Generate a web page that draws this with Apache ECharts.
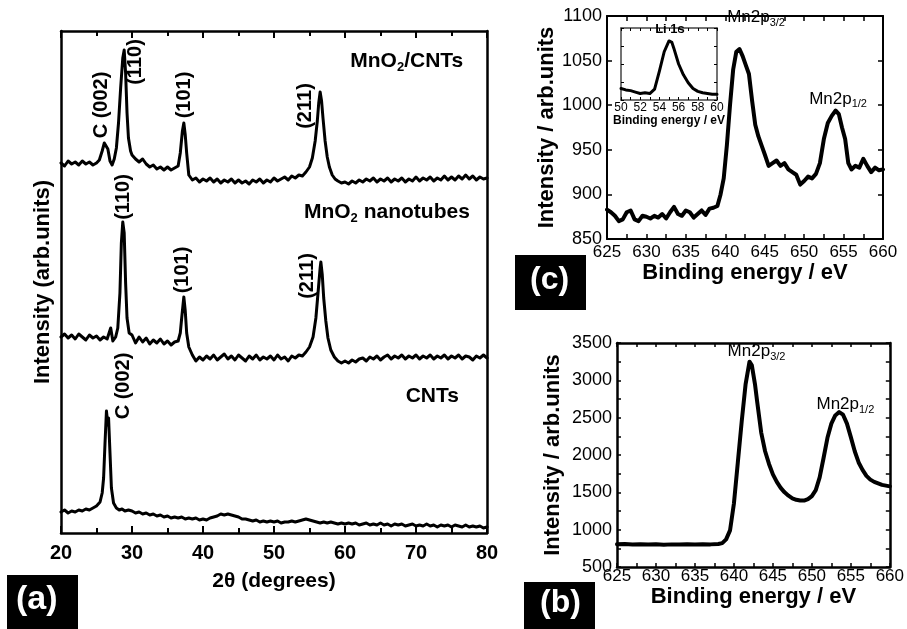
<!DOCTYPE html>
<html><head><meta charset="utf-8">
<script src="https://cdn.jsdelivr.net/npm/echarts@6/dist/echarts.min.js"></script>
<style>html,body{margin:0;padding:0;background:#fff}#c{width:907px;height:629px}</style>
</head><body><div id="c"></div>
<script>
const FONT = 'Liberation Sans, Arial, sans-serif';

// ---------- Panel (a): XRD patterns (2theta, stacked intensity, arb. units) ----------
const xrdCNTs = [[20,21],[20.5,23],[21,20],[21.5,22],[22,21],[22.5,23],[23,22],[23.5,24],[24,23],[24.5,25],[25,27],[25.5,31],[25.8,40],[26,55],[26.2,90],[26.4,122],[26.6,108],[26.7,115],[26.9,80],[27.1,45],[27.4,30],[27.8,25],[28.2,23],[28.6,24],[29,22],[29.5,23],[30,22],[30.5,20],[31,21],[31.5,19],[32,20],[32.5,18],[33,19],[33.5,17],[34,18],[34.5,16],[35,17],[35.5,15],[36,16],[36.5,15],[37,16],[37.5,14],[38,15],[38.5,14],[39,15],[39.5,13],[40,14],[40.5,13],[41,15],[41.5,16],[42,17],[42.5,19],[43,18],[43.5,19],[44,18],[44.5,17],[45,16],[45.5,14],[46,14],[46.5,13],[47,12],[47.5,13],[48,11],[48.5,12],[49,11],[49.5,12],[50,11],[50.5,12],[51,10],[51.5,11],[52,11],[52.5,12],[53,11],[53.5,12],[54,13],[54.5,14],[55,13],[55.5,12],[56,11],[56.5,10],[57,11],[57.5,10],[58,11],[58.5,10],[59,9],[59.5,10],[60,9],[60.5,10],[61,9],[61.5,10],[62,8],[62.5,9],[63,10],[63.5,8],[64,9],[64.5,8],[65,10],[65.5,8],[66,9],[66.5,7],[67,9],[67.5,8],[68,9],[68.5,7],[69,8],[69.5,9],[70,7],[70.5,8],[71,7],[71.5,9],[72,7],[72.5,8],[73,6],[73.5,8],[74,7],[74.5,8],[75,6],[75.5,8],[76,7],[76.5,6],[77,8],[77.5,6],[78,7],[78.5,6],[79,7],[79.5,5],[80,6]];

const xrdMnO2 = [[20,196],[20.5,199],[21,195],[21.5,198],[22,194],[22.5,199],[23,196],[23.5,193],[24,198],[24.5,195],[25,197],[25.5,193],[26,196],[26.5,194],[27,205],[27.3,192],[27.7,196],[28,205],[28.3,240],[28.5,290],[28.7,311],[28.9,300],[29.1,250],[29.3,215],[29.6,200],[30,198],[30.5,190],[31,196],[31.5,191],[32,195],[32.5,189],[33,193],[33.5,190],[34,194],[34.5,189],[35,192],[35.5,188],[36,191],[36.5,192],[36.8,200],[37,215],[37.3,236],[37.5,222],[37.7,200],[38,186],[38.5,178],[39,172],[39.5,176],[40,173],[40.5,177],[41,174],[41.5,178],[42,173],[42.5,176],[43,179],[43.5,174],[44,177],[44.5,173],[45,178],[45.5,175],[46,172],[46.5,177],[47,174],[47.5,178],[48,173],[48.5,176],[49,174],[49.5,177],[50,173],[50.5,178],[51,174],[51.5,176],[52,172],[52.5,177],[53,175],[53.5,178],[54,177],[54.5,181],[55,186],[55.5,196],[55.9,215],[56.2,240],[56.5,265],[56.6,271],[56.8,258],[57,235],[57.3,212],[57.6,195],[58,183],[58.5,176],[59,172],[59.5,170],[60,172],[60.5,170],[61,173],[61.5,171],[62,174],[62.5,175],[63,172],[63.5,176],[64,174],[64.5,177],[65,173],[65.5,176],[66,178],[66.5,174],[67,177],[67.5,175],[68,178],[68.5,174],[69,177],[69.5,175],[70,178],[70.5,174],[71,177],[71.5,175],[72,178],[72.5,174],[73,177],[73.5,175],[74,178],[74.5,174],[75,177],[75.5,175],[76,178],[76.5,174],[77,177],[77.5,176],[78,173],[78.5,177],[79,175],[79.5,178],[80,175]];

const xrdMnO2CNTs = [[20,370],[20.5,367],[21,372],[21.5,369],[22,371],[22.5,368],[23,372],[23.5,369],[24,371],[24.5,368],[25,370],[25.4,373],[25.8,382],[26.1,390],[26.3,391],[26.6,384],[26.9,372],[27.2,368],[27.5,374],[27.8,385],[28.1,410],[28.4,445],[28.7,475],[28.9,483],[29.1,460],[29.3,420],[29.5,395],[29.8,382],[30,378],[30.5,374],[31,371],[31.5,374],[32,369],[32.5,366],[33,368],[33.5,364],[34,366],[34.5,363],[35,366],[35.5,363],[36,365],[36.5,367],[36.8,380],[37.1,402],[37.3,410],[37.5,398],[37.7,380],[38,358],[38.5,353],[39,355],[39.5,351],[40,354],[40.5,352],[41,355],[41.5,351],[42,354],[42.5,350],[43,353],[43.5,351],[44,354],[44.5,350],[45,353],[45.5,350],[46,352],[46.5,349],[47,353],[47.5,351],[48,354],[48.5,350],[49,353],[49.5,351],[50,355],[50.5,352],[51,354],[51.5,356],[52,353],[52.5,357],[53,355],[53.5,358],[54,357],[54.5,361],[55,366],[55.4,375],[55.8,392],[56.1,412],[56.3,430],[56.5,441],[56.7,432],[56.9,415],[57.2,392],[57.5,376],[57.8,366],[58.2,358],[58.6,354],[59,352],[59.5,350],[60,351],[60.5,349],[61,352],[61.5,350],[62,353],[62.5,351],[63,354],[63.5,352],[64,355],[64.5,351],[65,354],[65.5,352],[66,355],[66.5,351],[67,354],[67.5,352],[68,355],[68.5,351],[69,354],[69.5,352],[70,356],[70.5,352],[71,355],[71.5,353],[72,356],[72.5,352],[73,355],[73.5,353],[74,357],[74.5,353],[75,356],[75.5,353],[76,357],[76.5,354],[77,358],[77.5,354],[78,357],[78.5,353],[79,356],[79.5,354],[80,355]];

const xrdTicks = {min: 20, max: 80, step: 10};
const xrdPeakLabels = [['C (002)',25.9,428],['(110)',30.7,471],['(101)',37.5,438],['(211)',54.6,427],['(110)',29.0,336],['(101)',37.3,263],['(211)',54.9,257],['C (002)',28.9,147]];
const xrdSampleLabels = [['MnO_{2}/CNTs',68.7,471],['MnO_{2} nanotubes',65.9,320],['CNTs',72.3,136]];

// ---------- Panel (c): XPS Mn2p of MnO2/CNTs with Li 1s inset ----------
const xpsC = [[625,883],[625.5,880],[626,876],[626.5,870],[627,872],[627.5,880],[628,882],[628.5,872],[629,870],[629.5,876],[630,875],[630.5,873],[631,876],[631.5,874],[632,878],[632.5,873],[633,880],[633.5,886],[634,878],[634.5,876],[635,882],[635.5,880],[636,874],[636.5,878],[637,882],[637.5,877],[638,884],[638.5,885],[639,887],[639.4,900],[639.8,918],[640.2,955],[640.6,1000],[641,1040],[641.4,1060],[641.8,1063],[642.2,1055],[642.6,1045],[643,1035],[643.4,1005],[643.8,978],[644.2,965],[644.6,955],[645,945],[645.5,932],[646,935],[646.5,938],[647,932],[647.5,935],[648,928],[648.5,925],[649,922],[649.5,911],[650,915],[650.5,920],[651,918],[651.5,923],[652,935],[652.5,962],[653,980],[653.5,988],[654,994],[654.4,990],[654.8,975],[655.2,962],[655.6,935],[656,928],[656.5,932],[657,930],[657.5,940],[658,932],[658.5,925],[659,930],[659.5,927],[660,928]];
const xpsCLabels = [['Mn2p_{3/2}',643.9,1097],['Mn2p_{1/2}',654.3,1006]];
const liInset = [[50,16],[50.5,14],[51,13],[51.5,11],[52,9],[52.5,10],[53,9],[53.5,15],[54,40],[54.5,67],[55,82],[55.3,80],[55.5,72],[56,50],[56.5,35],[57,24],[57.5,16],[58,12],[58.5,10],[59,9],[59.5,8],[60,8]];
const liInsetLabels = [['Li 1s',55.1,97]];

// ---------- Panel (b): XPS Mn2p ----------
const xpsB = [[625,805],[626,808],[627,802],[628,806],[629,800],[630,804],[631,799],[632,803],[633,800],[634,805],[635,802],[636,806],[637,803],[638,808],[638.5,820],[639,870],[639.5,990],[640,1350],[640.5,1900],[641,2450],[641.5,2950],[642,3250],[642.3,3200],[642.7,2950],[643,2700],[643.5,2300],[644,2050],[644.5,1880],[645,1740],[645.5,1640],[646,1560],[646.5,1500],[647,1455],[647.5,1420],[648,1400],[648.5,1390],[649,1390],[649.5,1410],[650,1450],[650.5,1530],[651,1700],[651.5,1960],[652,2230],[652.5,2420],[653,2530],[653.5,2575],[654,2540],[654.5,2420],[655,2240],[655.5,2050],[656,1900],[656.5,1800],[657,1720],[657.5,1670],[658,1640],[658.5,1620],[659,1600],[659.5,1590],[660,1580]];
const xpsBLabels = [['Mn2p_{3/2}',642.9,3370],['Mn2p_{1/2}',654.3,2660]];

const panelTags = ['(a)','(b)','(c)'];

function toRich(s){
  return s.split(/(_\{[^}]*\})/).filter(p=>p).map(p=> p.startsWith('_{') ? '{s|'+p.slice(2,-1)+'}' : '{n|'+p+'}').join('');
}
function richStyle(fs, ss, weight, pad){
  return {
    n:{fontFamily:FONT,fontSize:fs,fontWeight:weight,color:'#000',textBorderWidth:0,lineHeight:fs+2,verticalAlign:'top'},
    s:{fontFamily:FONT,fontSize:ss,fontWeight:weight,color:'#000',textBorderWidth:0,lineHeight:ss,padding:[pad,0,0,0],verticalAlign:'bottom'}
  };
}

const chart = echarts.init(document.getElementById('c'));
const plain = (v)=>String(v);

function xAx(grid, min, max, interval, pos, opts){
  return Object.assign({
    type:'value', gridIndex:grid, min, max, interval, position:pos,
    axisLine:{show:true,onZero:false,lineStyle:{color:opts.lc||'#000',width:opts.lw}},
    axisTick:{show:true,inside:true,length:opts.tl,lineStyle:{color:'#000',width:opts.tw}},
    minorTick:{show:!!opts.minor,splitNumber:opts.minor||5,length:opts.ml||opts.tl,lineStyle:{color:'#000',width:opts.tw}},
    splitLine:{show:false},
    axisLabel:{show:pos==='bottom',formatter:plain,color:'#000',fontFamily:FONT,fontSize:opts.fs,fontWeight:opts.fw,margin:opts.lm,showMinLabel:true,showMaxLabel:true},
  }, opts.extra||{});
}
function yAx(grid, min, max, interval, pos, opts){
  return Object.assign({
    type:'value', gridIndex:grid, min, max, interval, position:pos,
    axisLine:{show:true,onZero:false,lineStyle:{color:opts.lc||'#000',width:opts.lw}},
    axisTick:{show:!!opts.ticks,inside:true,length:opts.tl,lineStyle:{color:'#000',width:opts.tw}},
    minorTick:{show:!!opts.minor,splitNumber:opts.minor||5,length:opts.tl,lineStyle:{color:'#000',width:opts.tw}},
    splitLine:{show:false},
    axisLabel:{show:pos==='left' && !!opts.labels,formatter:plain,color:'#000',fontFamily:FONT,fontSize:opts.fs,fontWeight:opts.fw,margin:opts.lm},
  }, opts.extra||{});
}

const aX = {lw:2.5,tl:7,ml:5,tw:2,minor:2,fs:20,fw:'bold',lm:10};
const aY = {lw:2.5,tl:0,tw:2,ticks:false,labels:false};
const cX = {lw:2,tl:5,tw:1.5,minor:2,fs:17,fw:'normal',lm:5};
const cY = {lw:2,tl:5,tw:1.5,ticks:true,labels:true,fs:18,fw:'normal',lm:5};
const iX = {lw:1.5,lc:'#444',tl:3,tw:1,minor:2,fs:12,fw:'normal',lm:2};
const iY = {lw:1.5,lc:'#444',tl:3,tw:1,ticks:true,labels:false};
const bX = {lw:2.5,tl:4,tw:1.5,minor:2,fs:17,fw:'normal',lm:1};
const bY = {lw:2.5,tl:4,tw:1.5,ticks:true,minor:2,labels:true,fs:18,fw:'normal',lm:5};

const nameStyle = (fs)=>({color:'#000',fontFamily:FONT,fontSize:fs,fontWeight:'bold'});

const xAxes = [
  xAx(0, xrdTicks.min, xrdTicks.max, xrdTicks.step, 'bottom', Object.assign({}, aX, {extra:{name:'2θ (degrees)',nameLocation:'middle',nameGap:38,nameTextStyle:nameStyle(21)}})),
  xAx(0, xrdTicks.min, xrdTicks.max, xrdTicks.step, 'top', aX),
  xAx(1, 625, 660, 5, 'bottom', Object.assign({}, cX, {extra:{name:'Binding energy / eV',nameLocation:'middle',nameGap:20,nameTextStyle:nameStyle(22)}})),
  xAx(1, 625, 660, 5, 'top', cX),
  xAx(2, 50, 60, 2, 'bottom', Object.assign({}, iX, {extra:{name:'Binding energy / eV',nameLocation:'middle',nameGap:13,nameTextStyle:nameStyle(12)}})),
  xAx(2, 50, 60, 2, 'top', iX),
  xAx(3, 625, 660, 5, 'bottom', Object.assign({}, bX, {extra:{name:'Binding energy / eV',nameLocation:'middle',nameGap:15,nameTextStyle:nameStyle(22)}})),
  xAx(3, 625, 660, 5, 'top', bX),
];

const yAxes = [
  yAx(0, 0, 502, 100, 'left', Object.assign({}, aY, {extra:{name:'Intensity (arb.units)',nameLocation:'middle',nameGap:7,nameTextStyle:nameStyle(22)}})),
  yAx(0, 0, 502, 100, 'right', aY),
  yAx(1, 850, 1100, 50, 'left', Object.assign({}, cY, {extra:{name:'Intensity / arb.units',nameLocation:'middle',nameGap:41,nameTextStyle:nameStyle(22)}})),
  yAx(1, 850, 1100, 50, 'right', cY),
  yAx(2, 0, 100, 25, 'left', iY),
  yAx(2, 0, 100, 25, 'right', iY),
  yAx(3, 500, 3500, 500, 'left', Object.assign({}, bY, {extra:{name:'Intensity / arb.units',nameLocation:'middle',nameGap:53,nameTextStyle:nameStyle(22)}})),
  yAx(3, 500, 3500, 500, 'right', bY),
];

function lineSeries(data, xi, yi, w){
  return {type:'line', data, xAxisIndex:xi, yAxisIndex:yi, showSymbol:false, symbol:'none', smooth:false,
    lineStyle:{color:'#000', width:w, join:'round', cap:'round'}, itemStyle:{color:'#000'}, silent:true, z:3};
}
function textSeries(items, xi, yi, fs, ss, weight, rotate, pad){
  return {type:'scatter', xAxisIndex:xi, yAxisIndex:yi, symbolSize:0, silent:true, z:5,
    itemStyle:{color:'#000', opacity:1},
    data: items.map(d=>({name:d[0], value:[d[1], d[2]]})),
    label:{show:true, position:'inside', rotate:rotate, align:'center', verticalAlign:'middle',
      color:'#000', textBorderWidth:0, opacity:1,
      formatter:(p)=>toRich(p.name), rich: richStyle(fs, ss, weight, pad)}};
}

const option = {
  animation:false,
  backgroundColor:'#fff',
  grid:[
    {left:61, top:31, width:426, height:502},
    {left:607, top:16, width:276, height:223},
    {left:621, top:28, width:96, height:72},
    {left:617, top:343, width:275, height:224},
  ],
  xAxis: xAxes,
  yAxis: yAxes,
  series:[
    lineSeries(xrdCNTs, 0, 0, 3),
    lineSeries(xrdMnO2, 0, 0, 3),
    lineSeries(xrdMnO2CNTs, 0, 0, 3),
    textSeries(xrdPeakLabels, 0, 0, 20, 13, 'bold', 90, 0),
    textSeries(xrdSampleLabels, 0, 0, 21, 13, 'bold', 0, 14),
    lineSeries(xpsC, 2, 2, 4),
    textSeries(xpsCLabels, 2, 2, 17, 11, 'normal', 0, 11),
    lineSeries(liInset, 4, 4, 3),
    textSeries(liInsetLabels, 4, 4, 13, 9, 'bold', 0, 0),
    lineSeries(xpsB, 6, 6, 4),
    textSeries(xpsBLabels, 6, 6, 17, 11, 'normal', 0, 11),
  ],
  graphic:[
    {type:'rect', left:7, top:575, shape:{width:71, height:54}, style:{fill:'#000'}},
    {type:'text', left:16, top:583, style:{text:panelTags[0], fill:'#fff', font:'bold 34px '+FONT}},
    {type:'rect', left:524, top:582, shape:{width:71, height:47}, style:{fill:'#000'}},
    {type:'text', left:540, top:587, style:{text:panelTags[1], fill:'#fff', font:'bold 32px '+FONT}},
    {type:'rect', left:515, top:255, shape:{width:71, height:55}, style:{fill:'#000'}},
    {type:'text', left:530, top:264, style:{text:panelTags[2], fill:'#fff', font:'bold 32px '+FONT}},
  ]
};
chart.setOption(option);
</script>
</body></html>
